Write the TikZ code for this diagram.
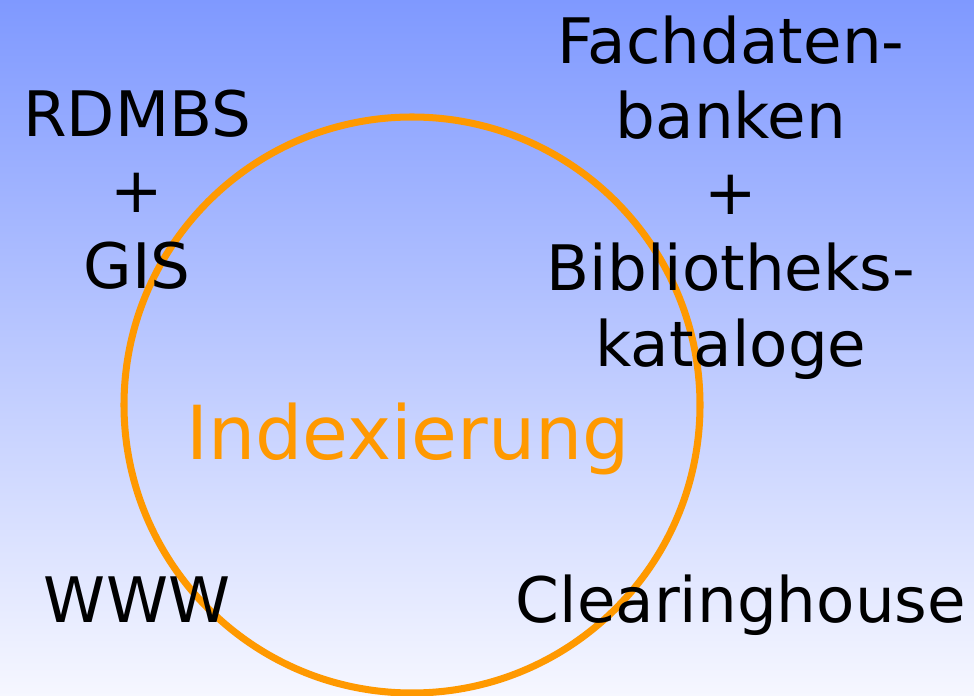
\documentclass[tikz,border=0pt]{standalone}
\usepackage{fontspec}
\setmainfont{DejaVu Sans}
\definecolor{bgtop}{RGB}{127,153,255}
\definecolor{bgbottom}{RGB}{246,247,255}
\definecolor{ringorange}{RGB}{255,153,0}
\begin{document}
\begin{tikzpicture}[x=0.02cm, y=-0.02cm,
  term/.style={font=\fontsize{35.7}{43.1}\selectfont, align=center, anchor=base, inner sep=0pt}]
\shade [top color=bgtop, bottom color=bgbottom] (0,0) rectangle (974,696);
\useasboundingbox (0,0) rectangle (974,696);
\draw [ringorange, line width=4pt] (412,405) circle (288);
% base anchor sits on the last line
\node [term] (rdmbs) at (137,288) {RDMBS\\+\\GIS};
\node [term] (fachdaten) at (731,366) {Fachdaten-\\banken\\+\\Bibliotheks-\\kataloge};
\node [term] (www) at (137,622) {WWW};
\node [term] (clearing) at (741,622) {Clearinghouse};
\node [term, ringorange, font=\fontsize{42.4}{50}\selectfont] (index) at (408,459) {Indexierung};
\end{tikzpicture}
\end{document}
